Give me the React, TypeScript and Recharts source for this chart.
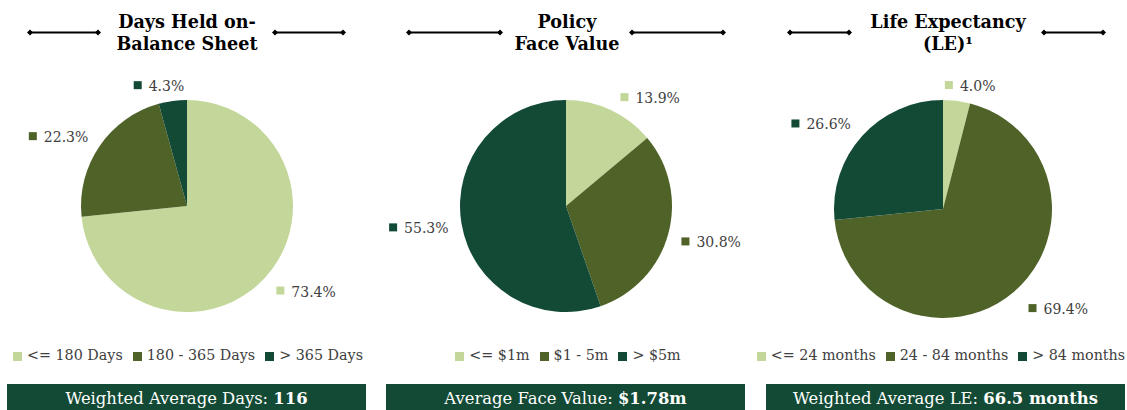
import { PieChart, Pie, Cell, Legend } from "recharts";

const daysLabels = ["<= 180 Days", "180 - 365 Days", "> 365 Days"];
const daysValues = [73.4, 22.3, 4.3];

const faceLabels = ["<= $1m", "$1 - 5m", "> $5m"];
const faceValues = [13.9, 30.8, 55.3];

const leLabels = ["<= 24 months", "24 - 84 months", "> 84 months"];
const leValues = [4.0, 69.4, 26.6];

const COLORS = ["#c4d79b", "#4f6228", "#134a35"];
const FONT = "'DejaVu Serif', Georgia, serif";
const RADIAN = Math.PI / 180;

type Panel = {
  title: string[];
  titleX: number;
  names: string[];
  values: number[];
  cx: number;
  cy: number;
  r: number;
  lines: [number, number, number, number];
  legendDx: number;
  boxLeft: number;
  boxLabel: string;
  boxValue: string;
  // small hand nudges for the data labels, like Excel's placement
  nudge: [number, number][];
};

const panels: Panel[] = [
  {
    title: ["Days Held on-", "Balance Sheet"],
    titleX: 187,
    names: daysLabels,
    values: daysValues,
    cx: 187,
    cy: 206,
    r: 106,
    lines: [30, 98, 275, 343],
    legendDx: 5,
    boxLeft: 7,
    boxLabel: "Weighted Average Days: ",
    boxValue: "116",
    nudge: [
      [4, -1],
      [-3, 4],
      [-9, 8],
    ],
  },
  {
    title: ["Policy", "Face Value"],
    titleX: 191,
    names: faceLabels,
    values: faceValues,
    cx: 190,
    cy: 206,
    r: 106,
    lines: [33, 124, 256, 347],
    legendDx: 9,
    boxLeft: 10,
    boxLabel: "Average Face Value: ",
    boxValue: "$1.78m",
    nudge: [
      [18, 9],
      [-4, 2],
      [3, 1],
    ],
  },
  {
    title: ["Life Expectancy", "(LE)\u00b9"],
    titleX: 196,
    names: leLabels,
    values: leValues,
    cx: 191,
    cy: 209,
    r: 109,
    lines: [38, 97, 292, 351],
    legendDx: 6,
    boxLeft: 14,
    boxLabel: "Weighted Average LE: ",
    boxValue: "66.5 months",
    nudge: [
      [7, 8],
      [12, 0],
      [-7, 4],
    ],
  },
];

function makeLabel(nudge: [number, number][]) {
  return (props: any) => {
    const { cx, cy, midAngle, outerRadius, index, value } = props;
    const text = `${Number(value).toFixed(1)}%`;
    const rr = outerRadius + 19;
    const cos = Math.cos(-midAngle * RADIAN);
    const sin = Math.sin(-midAngle * RADIAN);
    const w = 14 + text.length * 8.6;
    const [dx, dy] = nudge[index] ?? [0, 0];
    const mx = cx + rr * cos + (cos * w) / 2 + dx;
    const my = cy + rr * sin + sin * 4 + dy;
    const left = mx - w / 2;
    return (
      <g>
        <rect x={left} y={my - 5} width={8} height={8} fill={COLORS[index]} />
        <text
          x={left + 15}
          y={my}
          dominantBaseline="central"
          fontFamily={FONT}
          fontSize={14}
          fill="#404040"
        >
          {text}
        </text>
      </g>
    );
  };
}

function PiePanel({ p, left }: { p: Panel; left: number }) {
  const data = p.names.map((name, i) => ({ name, value: p.values[i] }));
  const [a, b, c, d] = p.lines;
  return (
    <div style={{ position: "absolute", left, top: 0, width: 376, height: 410 }}>
      <svg width={376} height={60} style={{ position: "absolute", left: 0, top: 0 }}>
        {[
          [a, b],
          [c, d],
        ].map(([x1, x2], i) => (
          <g key={i}>
            <line x1={x1} x2={x2} y1={32.5} y2={32.5} stroke="#000" strokeWidth={2} />
            <polygon points={`${x1 - 3},32.5 ${x1},29.5 ${x1 + 3},32.5 ${x1},35.5`} fill="#000" />
            <polygon points={`${x2 - 3},32.5 ${x2},29.5 ${x2 + 3},32.5 ${x2},35.5`} fill="#000" />
          </g>
        ))}
      </svg>
      <div
        style={{
          position: "absolute",
          left: p.titleX - 150,
          width: 300,
          top: 11,
          textAlign: "center",
          fontFamily: FONT,
          fontWeight: 700,
          fontSize: 17.6,
          lineHeight: "22px",
          color: "#000",
        }}
      >
        <div>{p.title[0]}</div>
        <div>{p.title[1]}</div>
      </div>
      <div style={{ position: "absolute", left: 0, top: 0 }}>
        <PieChart width={376} height={380} margin={{ top: 0, right: 0, bottom: 0, left: 0 }}>
          <Pie
            data={data}
            dataKey="value"
            nameKey="name"
            cx={p.cx}
            cy={p.cy}
            outerRadius={p.r}
            startAngle={90}
            endAngle={-270}
            stroke="none"
            label={makeLabel(p.nudge)}
            labelLine={false}
            isAnimationActive={false}
          >
            {data.map((_, i) => (
              <Cell key={i} fill={COLORS[i]} />
            ))}
          </Pie>
          <Legend
            verticalAlign="bottom"
            align="center"
            iconType="square"
            iconSize={9}
            itemSorter={(item: any) => p.names.indexOf(item.value)}
            wrapperStyle={{
              top: 347,
              bottom: "auto",
              fontFamily: FONT,
              fontSize: 14.3,
              left: p.legendDx - 12,
              width: 400,
              whiteSpace: "nowrap",
            }}
            formatter={(v: string) => <span style={{ color: "#404040", marginLeft: 1 }}>{v}</span>}
          />
        </PieChart>
      </div>
      <div
        style={{
          position: "absolute",
          left: p.boxLeft,
          top: 384,
          width: 359,
          height: 30,
          background: "#134a35",
          color: "#fff",
          fontFamily: FONT,
          fontSize: 16.4,
          textAlign: "center",
          lineHeight: "29px",
        }}
      >
        {p.boxLabel}
        <b>{p.boxValue}</b>
      </div>
    </div>
  );
}

export default function App() {
  return (
    <div style={{ position: "relative", width: 1127, height: 410, overflow: "hidden", background: "#fff" }}>
      <style>{`body{margin:0}`}</style>
      {panels.map((p, i) => (
        <PiePanel key={i} p={p} left={i * 376} />
      ))}
    </div>
  );
}
